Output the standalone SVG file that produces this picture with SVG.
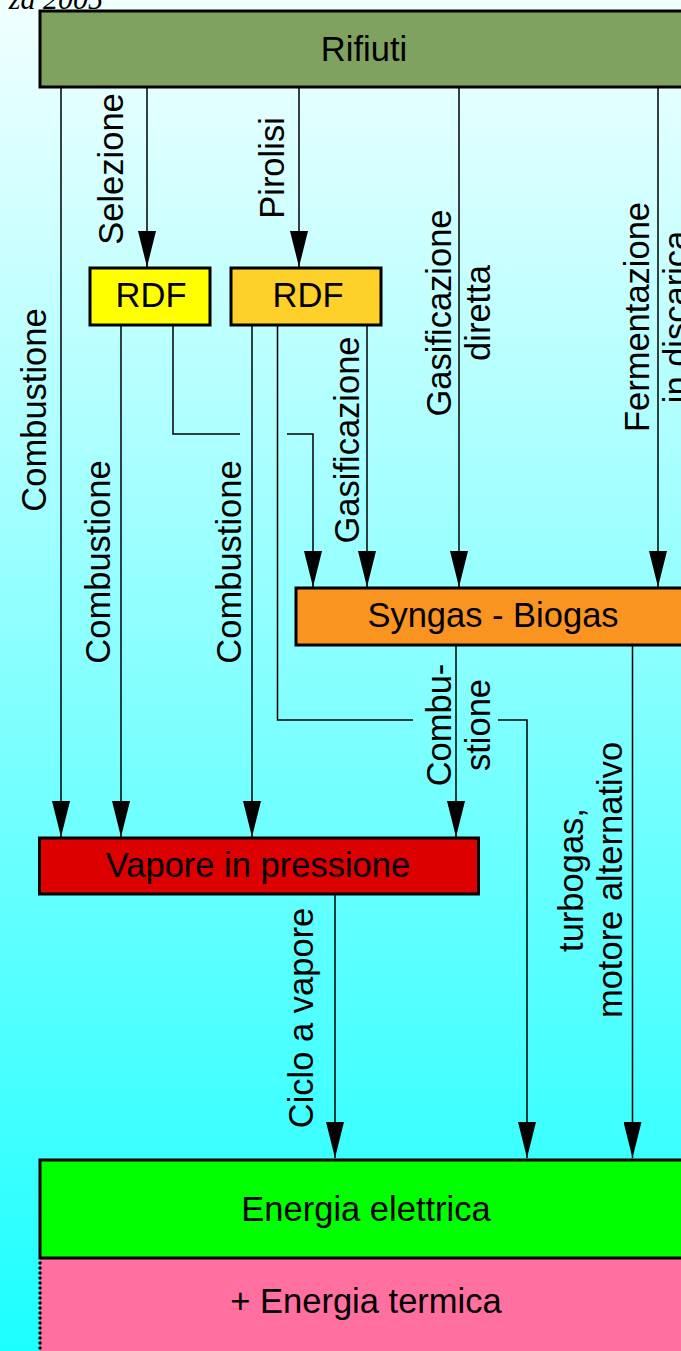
<svg xmlns="http://www.w3.org/2000/svg" width="681" height="1351" viewBox="0 0 681 1351">
<defs>
<linearGradient id="bg" x1="0" y1="0" x2="0" y2="1">
<stop offset="0" stop-color="#f2ffff"/>
<stop offset="1" stop-color="#1cffff"/>
</linearGradient>
<marker id="ah" markerUnits="userSpaceOnUse" viewBox="0 0 36 18" markerWidth="36" markerHeight="18" refX="36" refY="9" orient="auto">
<path d="M0,0 L36,9 L0,18 Z" fill="#000"/>
</marker>
<style>
.box{stroke:#000;stroke-width:3}
.t{font-family:"Liberation Sans",Arial,sans-serif;font-size:34.5px;fill:#000;text-anchor:middle}
.c{fill:none;stroke:#000;stroke-width:1.5}
.a{marker-end:url(#ah)}
</style>
</defs>
<rect x="0" y="0" width="681" height="1351" fill="url(#bg)"/>
<text x="103" y="9" font-family="Liberation Serif,serif" font-style="italic" font-size="30" text-anchor="end" fill="#000">za 2005</text>

<g id="connectors">
<path class="c a" d="M61,88 V837"/>
<path class="c a" d="M147,88 V267"/>
<path class="c a" d="M299,88 V267"/>
<path class="c a" d="M459,88 V587"/>
<path class="c a" d="M658,88 V587"/>
<path class="c a" d="M121,325 V837"/>
<path class="c" d="M173,325 V434 H240"/>
<path class="c a" d="M287,434 H313 V587"/>
<path class="c a" d="M252,325 V837"/>
<path class="c" d="M277.5,325 V720 H413"/>
<path class="c a" d="M498,720 H527 V1158"/>
<path class="c a" d="M367,325 V587"/>
<path class="c a" d="M456,645 V837"/>
<path class="c a" d="M632.5,645 V1158"/>
<path class="c a" d="M335,894 V1158"/>
</g>

<g id="labels" class="t">
<text class="t" transform="translate(46,410) rotate(-90)">Combustione</text>
<text class="t" transform="translate(123,169) rotate(-90)">Selezione</text>
<text class="t" transform="translate(283.5,168) rotate(-90)">Pirolisi</text>
<text class="t" transform="translate(451,313) rotate(-90)">Gasificazione</text>
<text class="t" transform="translate(490,313) rotate(-90)">diretta</text>
<text class="t" transform="translate(648.5,317) rotate(-90)">Fermentazione</text>
<text class="t" transform="translate(687.5,317) rotate(-90)">in discarica</text>
<text class="t" transform="translate(110,562) rotate(-90)">Combustione</text>
<text class="t" transform="translate(241,562) rotate(-90)">Combustione</text>
<text class="t" transform="translate(359,440) rotate(-90)">Gasificazione</text>
<text class="t" transform="translate(450.5,725) rotate(-90)">Combu-</text>
<text class="t" transform="translate(489.5,725) rotate(-90)">stione</text>
<text class="t" transform="translate(583,880) rotate(-90)">turbogas,</text>
<text class="t" transform="translate(622,880) rotate(-90)">motore alternativo</text>
<text class="t" transform="translate(313,1018) rotate(-90)">Ciclo a vapore</text>
</g>

<g id="rifiuti">
<rect class="box" x="40" y="11" width="650" height="76" fill="#80a260"/>
<text class="t" x="364" y="61">Rifiuti</text>
</g>
<g id="rdf1">
<rect class="box" x="90" y="268" width="120" height="57" fill="#ffff00"/>
<text class="t" x="151" y="307">RDF</text>
</g>
<g id="rdf2">
<rect class="box" x="231" y="268" width="150" height="57" fill="#fdd02a"/>
<text class="t" x="308" y="307">RDF</text>
</g>
<g id="syngas">
<rect class="box" x="296" y="588" width="394" height="57" fill="#f99420"/>
<text class="t" x="493" y="627">Syngas - Biogas</text>
</g>
<g id="vapore">
<rect class="box" x="39.5" y="838" width="439" height="56" fill="#dd0000"/>
<text class="t" x="258" y="876.5">Vapore in pressione</text>
</g>
<g id="termica">
<rect x="40" y="1258" width="650" height="100" fill="#ff6fa0"/>
<line x1="40" y1="1263" x2="40" y2="1351" stroke="#000" stroke-width="3.5" stroke-linecap="round" stroke-dasharray="0 5"/>
<text class="t" x="366" y="1313">+ Energia termica</text>
</g>
<g id="elettrica">
<rect class="box" x="40" y="1160" width="650" height="98" fill="#00ff00"/>
<text class="t" x="366" y="1221">Energia elettrica</text>
</g>
</svg>
